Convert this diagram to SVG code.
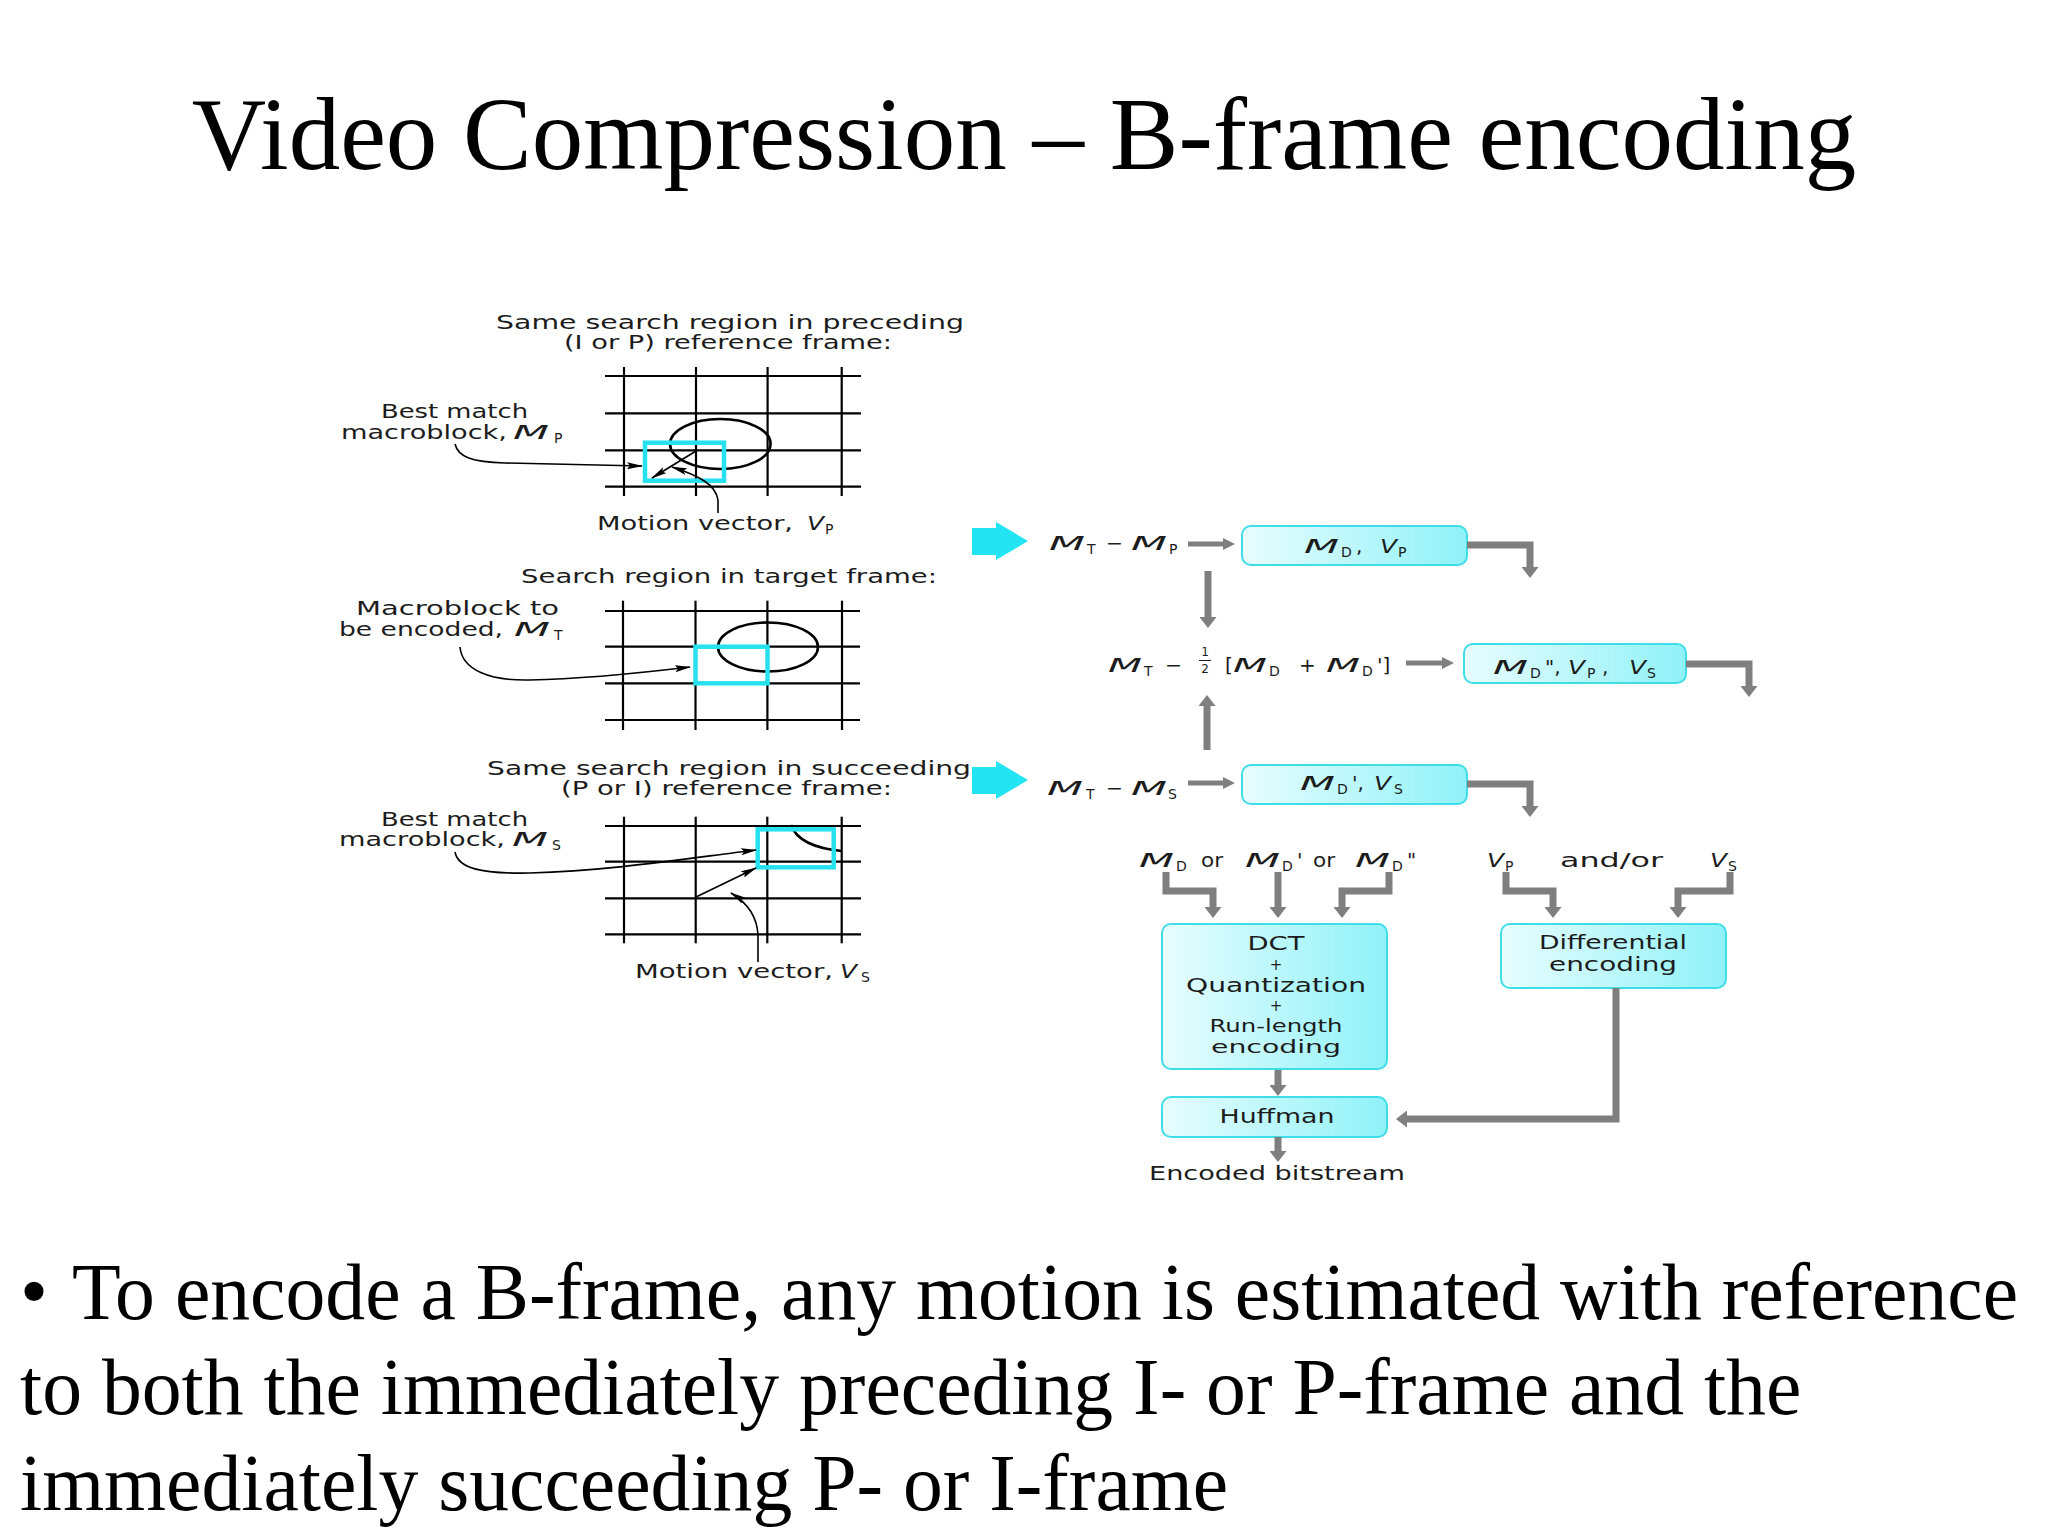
<svg xmlns="http://www.w3.org/2000/svg" width="2048" height="1536" viewBox="0 0 2048 1536">
<style>
.ti{font-family:"Liberation Serif","Times New Roman",serif;fill:#000}
.t{font-family:"DejaVu Sans","Liberation Sans",Arial,sans-serif;font-size:20px;fill:#1c1c1c}
.mi{font-style:italic}
.sb{font-size:14px}
.fr{font-size:12px}
.pl{font-size:15px}
.s19{font-size:19px}
.s18{font-size:18px}
.ctr{text-anchor:middle}
.grid line{stroke:#000;stroke-width:2.2}
.circ{fill:none;stroke:#000;stroke-width:2.6}
.mb{fill:none;stroke:#27e2ee;stroke-width:4.5}
.box{fill:url(#bg);stroke:#3fdde8;stroke-width:2}
.bigarrow{fill:#22e4f2}
.gc{fill:none;stroke:#7f7f7f;stroke-width:7;stroke-linejoin:miter;marker-end:url(#ag)}
.gs{fill:none;stroke:#7f7f7f;stroke-width:5;marker-end:url(#as)}
.bk{fill:none;stroke:#000;stroke-width:1.6;marker-end:url(#ab)}
</style>
<defs>
<linearGradient id="bg" x1="0" y1="0" x2="1" y2="0">
<stop offset="0" stop-color="#e8fdfe"/>
<stop offset="1" stop-color="#8ff2f8"/>
</linearGradient>
<marker id="ag" viewBox="0 0 11 17" markerWidth="11" markerHeight="17" refX="0" refY="8.5" orient="auto" markerUnits="userSpaceOnUse"><path d="M0,0 L11,8.5 L0,17 Z" fill="#7f7f7f"/></marker>
<marker id="as" viewBox="0 0 12 12" markerWidth="12" markerHeight="12" refX="0" refY="6" orient="auto" markerUnits="userSpaceOnUse"><path d="M0,0 L12,6 L0,12 Z" fill="#7f7f7f"/></marker>
<marker id="ab" viewBox="0 0 16 7" markerWidth="16" markerHeight="7" refX="15" refY="3.5" orient="auto" markerUnits="userSpaceOnUse"><path d="M0,0 L16,3.5 L0,7 L3,3.5 Z" fill="#000"/></marker>
</defs>
<rect width="2048" height="1536" fill="#fff"/>

<g id="title"><text class="ti" x="1024" y="169" font-size="103" text-anchor="middle">Video Compression – B-frame encoding</text></g>

<g id="ref-preceding">
<text class="t" x="496" y="329" textLength="468" lengthAdjust="spacingAndGlyphs">Same search region in preceding</text>
<text class="t" x="564" y="349" textLength="328" lengthAdjust="spacingAndGlyphs">(I or P) reference frame:</text>
<g class="grid">
<line x1="624" y1="367" x2="624" y2="496"/><line x1="696" y1="367" x2="696" y2="496"/><line x1="767.6" y1="367" x2="767.6" y2="496"/><line x1="841.7" y1="367" x2="841.7" y2="496"/>
<line x1="605" y1="376" x2="861" y2="376"/><line x1="605" y1="413.3" x2="861" y2="413.3"/><line x1="605" y1="450.3" x2="861" y2="450.3"/><line x1="605" y1="486.7" x2="861" y2="486.7"/>
</g>
<ellipse class="circ" cx="720.3" cy="444" rx="50.3" ry="25"/>
<rect class="mb" x="645" y="442.7" width="79" height="38"/>
<text class="t" x="381" y="418" textLength="147" lengthAdjust="spacingAndGlyphs">Best match</text>
<text class="t" x="341" y="439" textLength="166" lengthAdjust="spacingAndGlyphs">macroblock,</text>
<text class="t mi" x="513" y="439" textLength="36" lengthAdjust="spacingAndGlyphs">M</text>
<text class="t sb" x="554" y="443">P</text>
<text class="t" x="597" y="530" textLength="196" lengthAdjust="spacingAndGlyphs">Motion vector,</text>
<text class="t mi" x="807" y="530" textLength="17" lengthAdjust="spacingAndGlyphs">V</text>
<text class="t sb" x="825" y="534">P</text>
</g>

<g id="target-frame">
<text class="t" x="521" y="583" textLength="416" lengthAdjust="spacingAndGlyphs">Search region in target frame:</text>
<g class="grid">
<line x1="623" y1="600.7" x2="623" y2="730"/><line x1="695.5" y1="600.7" x2="695.5" y2="730"/><line x1="767.4" y1="600.7" x2="767.4" y2="730"/><line x1="842" y1="600.7" x2="842" y2="730"/>
<line x1="605" y1="611" x2="860" y2="611"/><line x1="605" y1="646.7" x2="860" y2="646.7"/><line x1="605" y1="683.3" x2="860" y2="683.3"/><line x1="605" y1="720" x2="860" y2="720"/>
</g>
<ellipse class="circ" cx="768" cy="647" rx="50" ry="24.5"/>
<rect class="mb" x="695.5" y="646.7" width="72" height="36.6"/>
<text class="t" x="356" y="615" textLength="203" lengthAdjust="spacingAndGlyphs">Macroblock to</text>
<text class="t" x="339" y="636" textLength="164" lengthAdjust="spacingAndGlyphs">be encoded,</text>
<text class="t mi" x="514" y="636" textLength="36" lengthAdjust="spacingAndGlyphs">M</text>
<text class="t sb" x="554" y="640">T</text>
</g>

<g id="ref-succeeding">
<text class="t" x="487" y="775" textLength="484" lengthAdjust="spacingAndGlyphs">Same search region in succeeding</text>
<text class="t" x="561" y="795" textLength="331" lengthAdjust="spacingAndGlyphs">(P or I) reference frame:</text>
<g class="grid">
<line x1="624" y1="816.7" x2="624" y2="943.3"/><line x1="695.7" y1="816.7" x2="695.7" y2="943.3"/><line x1="767.3" y1="816.7" x2="767.3" y2="943.3"/><line x1="841.7" y1="816.7" x2="841.7" y2="943.3"/>
<line x1="605" y1="826" x2="861" y2="826"/><line x1="605" y1="861.7" x2="861" y2="861.7"/><line x1="605" y1="898.3" x2="861" y2="898.3"/><line x1="605" y1="934.3" x2="861" y2="934.3"/>
</g>
<path class="circ" d="M791,825 Q799,847 842,851"/>
<rect class="mb" x="757.7" y="829.3" width="76" height="38"/>
<text class="t" x="381" y="826" textLength="147" lengthAdjust="spacingAndGlyphs">Best match</text>
<text class="t" x="339" y="846" textLength="166" lengthAdjust="spacingAndGlyphs">macroblock,</text>
<text class="t mi" x="512" y="846" textLength="36" lengthAdjust="spacingAndGlyphs">M</text>
<text class="t sb" x="552" y="850">S</text>
<text class="t" x="635" y="978" textLength="198" lengthAdjust="spacingAndGlyphs">Motion vector,</text>
<text class="t mi" x="840" y="978" textLength="17" lengthAdjust="spacingAndGlyphs">V</text>
<text class="t sb" x="861" y="982">S</text>
</g>

<g id="arrow-in-P"><polygon class="bigarrow" points="972,528 996,528 996,522 1028,541 996,560 996,555 972,555"/></g>
<g id="arrow-in-S"><polygon class="bigarrow" points="972,767 996,767 996,761 1028,780 996,799 996,794 972,794"/></g>

<g id="diff-P">
<text class="t mi" x="1049" y="550" textLength="36" lengthAdjust="spacingAndGlyphs">M</text>
<text class="t sb" x="1087" y="554">T</text>
<text class="t" x="1106" y="550" textLength="17" lengthAdjust="spacingAndGlyphs">−</text>
<text class="t mi" x="1131" y="550" textLength="36" lengthAdjust="spacingAndGlyphs">M</text>
<text class="t sb" x="1169" y="554">P</text>
</g>
<g id="box-MD-VP">
<rect class="box" x="1242" y="526" width="225" height="39" rx="9"/>
<text class="t mi" x="1304" y="553" textLength="35" lengthAdjust="spacingAndGlyphs">M</text>
<text class="t sb" x="1341" y="557">D</text>
<text class="t" x="1356" y="553">,</text>
<text class="t mi" x="1380" y="553" textLength="17" lengthAdjust="spacingAndGlyphs">V</text>
<text class="t sb" x="1398" y="557">P</text>
</g>

<g id="avg-diff">
<text class="t mi" x="1108" y="672" textLength="34" lengthAdjust="spacingAndGlyphs">M</text>
<text class="t sb" x="1144" y="676">T</text>
<text class="t" x="1165" y="672" textLength="17" lengthAdjust="spacingAndGlyphs">−</text>
<text class="t fr ctr"><tspan x="1205" y="656">1</tspan><tspan x="1205" y="673">2</tspan></text>
<line x1="1199" y1="660.5" x2="1211" y2="660.5" stroke="#1c1c1c" stroke-width="1"/>
<text class="t" x="1225" y="672">[</text>
<text class="t mi" x="1233" y="672" textLength="34" lengthAdjust="spacingAndGlyphs">M</text>
<text class="t sb" x="1269" y="676">D</text>
<text class="t" x="1299" y="672">+</text>
<text class="t mi" x="1326" y="672" textLength="34" lengthAdjust="spacingAndGlyphs">M</text>
<text class="t sb" x="1362" y="676">D</text>
<text class="t" x="1377" y="672">']</text>
</g>
<g id="box-MD2-VP-VS">
<rect class="box" x="1464" y="644" width="222" height="39" rx="9"/>
<text class="t mi" x="1493" y="674" textLength="35" lengthAdjust="spacingAndGlyphs">M</text>
<text class="t sb" x="1530" y="678">D</text>
<text class="t" x="1545" y="674">",</text>
<text class="t mi" x="1568" y="674" textLength="17" lengthAdjust="spacingAndGlyphs">V</text>
<text class="t sb" x="1587" y="678">P</text>
<text class="t" x="1602" y="674">,</text>
<text class="t mi" x="1629" y="674" textLength="17" lengthAdjust="spacingAndGlyphs">V</text>
<text class="t sb" x="1647" y="678">S</text>
</g>

<g id="diff-S">
<text class="t mi" x="1047" y="795" textLength="36" lengthAdjust="spacingAndGlyphs">M</text>
<text class="t sb" x="1086" y="799">T</text>
<text class="t" x="1106" y="795" textLength="17" lengthAdjust="spacingAndGlyphs">−</text>
<text class="t mi" x="1131" y="795" textLength="36" lengthAdjust="spacingAndGlyphs">M</text>
<text class="t sb" x="1168" y="799">S</text>
</g>
<g id="box-MD1-VS">
<rect class="box" x="1242" y="765" width="225" height="39" rx="9"/>
<text class="t mi" x="1300" y="790" textLength="35" lengthAdjust="spacingAndGlyphs">M</text>
<text class="t sb" x="1337" y="794">D</text>
<text class="t" x="1352" y="790">',</text>
<text class="t mi" x="1374" y="790" textLength="17" lengthAdjust="spacingAndGlyphs">V</text>
<text class="t sb" x="1394" y="794">S</text>
</g>

<g id="label-MD-choice">
<text class="t mi" x="1139" y="867" textLength="35" lengthAdjust="spacingAndGlyphs">M</text>
<text class="t sb" x="1176" y="871">D</text>
<text class="t" x="1201" y="867" textLength="22" lengthAdjust="spacingAndGlyphs">or</text>
<text class="t mi" x="1245" y="867" textLength="35" lengthAdjust="spacingAndGlyphs">M</text>
<text class="t sb" x="1282" y="871">D</text>
<text class="t" x="1297" y="867">'</text>
<text class="t" x="1313" y="867" textLength="22" lengthAdjust="spacingAndGlyphs">or</text>
<text class="t mi" x="1355" y="867" textLength="35" lengthAdjust="spacingAndGlyphs">M</text>
<text class="t sb" x="1392" y="871">D</text>
<text class="t" x="1407" y="867">"</text>
</g>
<g id="label-V-choice">
<text class="t mi" x="1487" y="867" textLength="17" lengthAdjust="spacingAndGlyphs">V</text>
<text class="t sb" x="1505" y="871">P</text>
<text class="t" x="1560" y="867" textLength="103" lengthAdjust="spacingAndGlyphs">and/or</text>
<text class="t mi" x="1710" y="867" textLength="17" lengthAdjust="spacingAndGlyphs">V</text>
<text class="t sb" x="1728" y="871">S</text>
</g>

<g id="box-DCT">
<rect class="box" x="1162" y="924" width="225" height="145" rx="9"/>
<text class="t ctr" x="1276" y="950" textLength="57" lengthAdjust="spacingAndGlyphs">DCT</text>
<text class="t pl ctr" x="1276" y="970">+</text>
<text class="t s19 ctr" x="1276" y="992" textLength="180" lengthAdjust="spacingAndGlyphs">Quantization</text>
<text class="t pl ctr" x="1276" y="1011">+</text>
<text class="t s18 ctr" x="1276" y="1032" textLength="133" lengthAdjust="spacingAndGlyphs">Run-length</text>
<text class="t s18 ctr" x="1276" y="1053" textLength="130" lengthAdjust="spacingAndGlyphs">encoding</text>
</g>
<g id="box-diff-enc">
<rect class="box" x="1501" y="924" width="225" height="64" rx="9"/>
<text class="t s19 ctr" x="1613" y="949" textLength="148" lengthAdjust="spacingAndGlyphs">Differential</text>
<text class="t s19 ctr" x="1613" y="971" textLength="128" lengthAdjust="spacingAndGlyphs">encoding</text>
</g>
<g id="box-huffman">
<rect class="box" x="1162" y="1097" width="225" height="40" rx="9"/>
<text class="t ctr" x="1277" y="1123" textLength="115" lengthAdjust="spacingAndGlyphs">Huffman</text>
</g>
<g id="output"><text class="t" x="1149" y="1180" textLength="256" lengthAdjust="spacingAndGlyphs">Encoded bitstream</text></g>

<g id="connectors">
<path class="bk" d="M455,444 C458,457 472,462 505,463 L642,466"/>
<path class="bk" d="M696,451 L652,478"/>
<path class="bk" d="M718,513 L718,500 C716,485 700,476 672,467"/>
<path class="bk" d="M460,647 C462,670 490,681 530,680 C580,679 640,673 690,667"/>
<path class="bk" d="M455,852 C458,868 480,874 530,873 C610,871 690,858 756,850"/>
<path class="bk" d="M696,897 L756,868"/>
<path class="bk" d="M758,962 L758,935 C757,915 746,902 731,893"/>
<path class="gs" d="M1188,544 H1223"/>
<path class="gs" d="M1406,663 H1442"/>
<path class="gs" d="M1188,783 H1223"/>
<path class="gc" d="M1467,545 H1530 V567"/>
<path class="gc" d="M1208,571 V617"/>
<path class="gc" d="M1686,664 H1749 V686"/>
<path class="gc" d="M1207,750 V706"/>
<path class="gc" d="M1467,784 H1530 V806"/>
<path class="gc" d="M1166,872 V891 H1213 V907"/>
<path class="gc" d="M1278,872 V907"/>
<path class="gc" d="M1389,872 V891 H1342 V907"/>
<path class="gc" d="M1506,872 V891 H1553 V907"/>
<path class="gc" d="M1730,872 V891 H1678 V907"/>
<path class="gc" d="M1278,1070 V1085"/>
<path class="gc" d="M1616,988 V1119 H1407"/>
<path class="gc" d="M1278,1137 V1151"/>
</g>

<g id="bullet-text">
<text class="ti" x="20" y="1318" font-size="80">•</text>
<text class="ti" x="72" y="1319" font-size="79.7">To encode a B-frame, any motion is estimated with reference</text>
<text class="ti" x="20" y="1414" font-size="79.7">to both the immediately preceding I- or P-frame and the</text>
<text class="ti" x="20" y="1510" font-size="79.7">immediately succeeding P- or I-frame</text>
</g>
</svg>
